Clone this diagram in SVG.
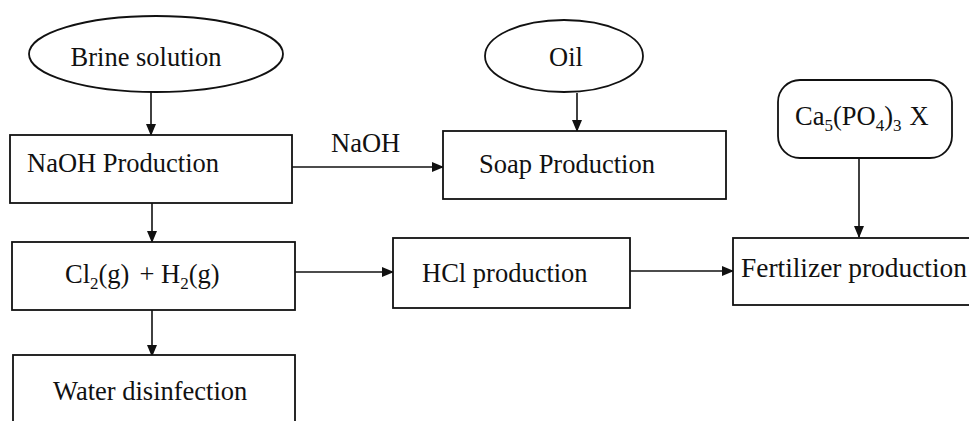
<svg xmlns="http://www.w3.org/2000/svg" width="969" height="421" viewBox="0 0 969 421">
<style>
.s{fill:#fff;stroke:#111;stroke-width:1.8}
.t{font-family:"Liberation Serif","Times New Roman",serif;font-size:26.5px;fill:#111}
.sub{font-size:17px}
.c{fill:none;stroke:#111;stroke-width:1.6}
</style>
<defs>
<marker id="a" markerWidth="12" markerHeight="10" refX="11" refY="5" orient="auto" markerUnits="userSpaceOnUse">
<path d="M0,0 L12,5 L0,10 Z" fill="#111"/>
</marker>
</defs>
<rect width="969" height="421" fill="#fff"/>
<g id="connectors">
<line class="c" x1="151" y1="92" x2="151" y2="135" marker-end="url(#a)"/>
<line class="c" x1="292" y1="167" x2="443" y2="167" marker-end="url(#a)"/>
<line class="c" x1="577" y1="93" x2="577" y2="131" marker-end="url(#a)"/>
<line class="c" x1="152" y1="203" x2="152" y2="242" marker-end="url(#a)"/>
<line class="c" x1="152" y1="310" x2="152" y2="356" marker-end="url(#a)"/>
<line class="c" x1="294" y1="272" x2="393" y2="272" marker-end="url(#a)"/>
<line class="c" x1="630" y1="271" x2="733" y2="271" marker-end="url(#a)"/>
<line class="c" x1="859" y1="158" x2="859" y2="237" marker-end="url(#a)"/>
<text class="t" x="331" y="152">NaOH</text>
</g>
<g id="brine">
<ellipse class="s" cx="156" cy="54" rx="127" ry="38"/>
<text class="t" x="146" y="66" text-anchor="middle">Brine solution</text>
</g>
<g id="naoh">
<rect class="s" x="10" y="135" width="282" height="68"/>
<text class="t" x="27" y="172">NaOH Production</text>
</g>
<g id="oil">
<ellipse class="s" cx="564" cy="56" rx="79" ry="36"/>
<text class="t" x="566" y="66" text-anchor="middle">Oil</text>
</g>
<g id="soap">
<rect class="s" x="443" y="131" width="283" height="68"/>
<text class="t" x="479" y="173">Soap Production</text>
</g>
<g id="cl2">
<rect class="s" x="12" y="242" width="283" height="68"/>
<text class="t" x="65" y="283">Cl<tspan class="sub" dy="6">2</tspan><tspan dy="-6">(g)</tspan><tspan dx="10">+ H</tspan><tspan class="sub" dy="6">2</tspan><tspan dy="-6">(g)</tspan></text>
</g>
<g id="water">
<rect class="s" x="13" y="355" width="282" height="80"/>
<text class="t" x="53" y="400">Water disinfection</text>
</g>
<g id="hcl">
<rect class="s" x="393" y="238" width="237" height="70"/>
<text class="t" x="422" y="282">HCl production</text>
</g>
<g id="ca">
<rect class="s" x="778" y="80" width="174" height="78" rx="22"/>
<text class="t" x="795" y="125">Ca<tspan class="sub" dy="6">5</tspan><tspan dy="-6">(PO</tspan><tspan class="sub" dy="6">4</tspan><tspan dy="-6">)</tspan><tspan class="sub" dy="6">3</tspan><tspan dy="-6" dx="8">X</tspan></text>
</g>
<g id="fertilizer">
<rect class="s" x="733" y="238" width="250" height="67"/>
<text class="t" x="741" y="277" textLength="226" lengthAdjust="spacingAndGlyphs">Fertilizer production</text>
</g>
</svg>
